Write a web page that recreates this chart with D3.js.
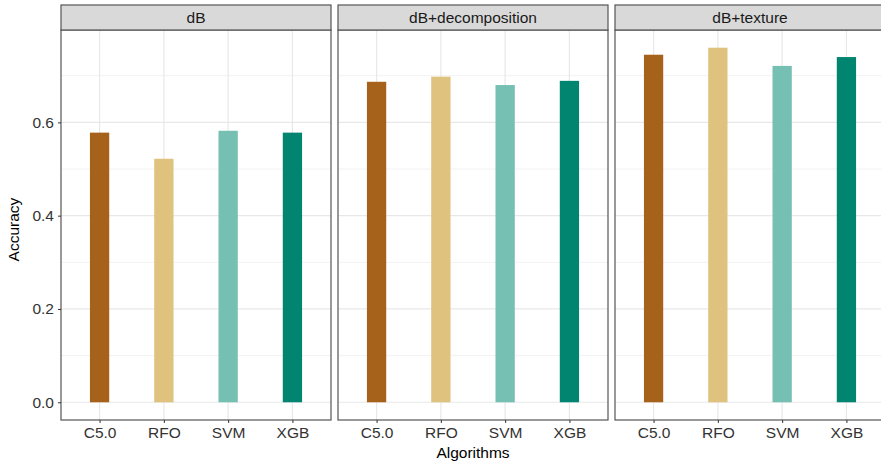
<!DOCTYPE html>
<html>
<head>
<meta charset="utf-8">
<script src="https://cdn.jsdelivr.net/npm/d3@7"></script>
<style>
  body { margin: 0; background: #fff; }
  text { font-family: "Liberation Sans", Arial, sans-serif; }
</style>
</head>
<body>
<div id="chart"></div>
<script>
// datos del gráfico
const facets = ["dB", "dB+decomposition", "dB+texture"];
const algorithms = ["C5.0", "RFO", "SVM", "XGB"];
const accDB = [0.578, 0.522, 0.582, 0.578];
const accDecomp = [0.687, 0.698, 0.680, 0.689];
const accTexture = [0.745, 0.760, 0.721, 0.740];
const yTicks = [0.0, 0.2, 0.4, 0.6];
const yMinor = [0.1, 0.3, 0.5, 0.7];
const colors = ["#a6611a", "#dfc27d", "#76bfb3", "#018571"];

const series = [accDB, accDecomp, accTexture];

const width = 881;
const height = 464;
const panelLeft = 61;
const panelW = 270;
const gap = 7;
const stripTop = 5;
const stripH = 25;
const plotTop = stripTop + stripH;
const plotBottom = 420;
const fontSize = "15.5px";

const svg = d3.select("#chart")
    .append("svg")
    .attr("width", width)
    .attr("height", height);

const y = d3.scaleLinear()
    .domain([-0.038, 0.798])
    .range([plotBottom, plotTop]);

const x = d3.scalePoint()
    .domain(algorithms)
    .range([0, panelW])
    .padding(0.6);

const barW = x.step() * 0.3;
const color = d3.scaleOrdinal().domain(algorithms).range(colors);

facets.forEach((f, i) => {
    const g = svg.append("g")
        .attr("transform", `translate(${panelLeft + i * (panelW + gap)},0)`);

    // grid
    g.selectAll(".minor")
        .data(yMinor)
        .enter()
        .append("line")
        .attr("x1", 0).attr("x2", panelW)
        .attr("y1", d => y(d)).attr("y2", d => y(d))
        .attr("stroke", "#f2f2f2")
        .attr("stroke-width", 1);

    g.selectAll(".major")
        .data(yTicks)
        .enter()
        .append("line")
        .attr("x1", 0).attr("x2", panelW)
        .attr("y1", d => y(d)).attr("y2", d => y(d))
        .attr("stroke", "#e8e8e8")
        .attr("stroke-width", 1.2);

    g.selectAll(".vgrid")
        .data(algorithms)
        .enter()
        .append("line")
        .attr("x1", d => x(d)).attr("x2", d => x(d))
        .attr("y1", plotTop).attr("y2", plotBottom)
        .attr("stroke", "#e8e8e8")
        .attr("stroke-width", 1.2);

    // barras
    g.selectAll("rect.bar")
        .data(series[i].map((v, j) => ({ alg: algorithms[j], value: v })))
        .enter()
        .append("rect")
        .attr("class", "bar")
        .attr("x", d => x(d.alg) - barW / 2)
        .attr("width", barW)
        .attr("y", d => y(d.value))
        .attr("height", d => y(0) - y(d.value))
        .attr("fill", d => color(d.alg));

    // borde del panel
    g.append("rect")
        .attr("x", 0).attr("y", plotTop)
        .attr("width", panelW).attr("height", plotBottom - plotTop)
        .attr("fill", "none")
        .attr("stroke", "#555")
        .attr("stroke-width", 1.2);

    // strip
    g.append("rect")
        .attr("x", 0).attr("y", stripTop)
        .attr("width", panelW).attr("height", stripH)
        .attr("fill", "#d9d9d9")
        .attr("stroke", "#555")
        .attr("stroke-width", 1.2);

    g.append("text")
        .attr("x", panelW / 2)
        .attr("y", stripTop + stripH / 2)
        .attr("dy", "0.36em")
        .attr("text-anchor", "middle")
        .style("font-size", fontSize)
        .attr("fill", "#1a1a1a")
        .text(f);

    // eje x
    const xAxis = g.append("g")
        .attr("transform", `translate(0,${plotBottom})`)
        .call(d3.axisBottom(x).tickSize(3).tickPadding(4));
    xAxis.select(".domain").remove();
    xAxis.selectAll("line").attr("stroke", "#333");
    xAxis.selectAll("text")
        .style("font-size", fontSize)
        .style("font-family", "'Liberation Sans', Arial, sans-serif")
        .attr("fill", "#333");

    // eje y solo en el primer panel
    if (i === 0) {
        const yAxis = g.append("g")
            .call(d3.axisLeft(y).tickValues(yTicks).tickFormat(d3.format(".1f")).tickSize(3).tickPadding(4));
        yAxis.select(".domain").remove();
        yAxis.selectAll("line").attr("stroke", "#333");
        yAxis.selectAll("text")
            .style("font-size", fontSize)
            .style("font-family", "'Liberation Sans', Arial, sans-serif")
            .attr("fill", "#333");
    }
});

// títulos de ejes
svg.append("text")
    .attr("x", (panelLeft + panelLeft + 3 * panelW + 2 * gap) / 2)
    .attr("y", 458)
    .attr("text-anchor", "middle")
    .style("font-size", fontSize)
    .attr("fill", "#000")
    .text("Algorithms");

svg.append("text")
    .attr("transform", `translate(19,${(stripTop + plotBottom) / 2 + 17}) rotate(-90)`)
    .attr("text-anchor", "middle")
    .style("font-size", fontSize)
    .attr("fill", "#000")
    .text("Accuracy");
</script>
</body>
</html>
